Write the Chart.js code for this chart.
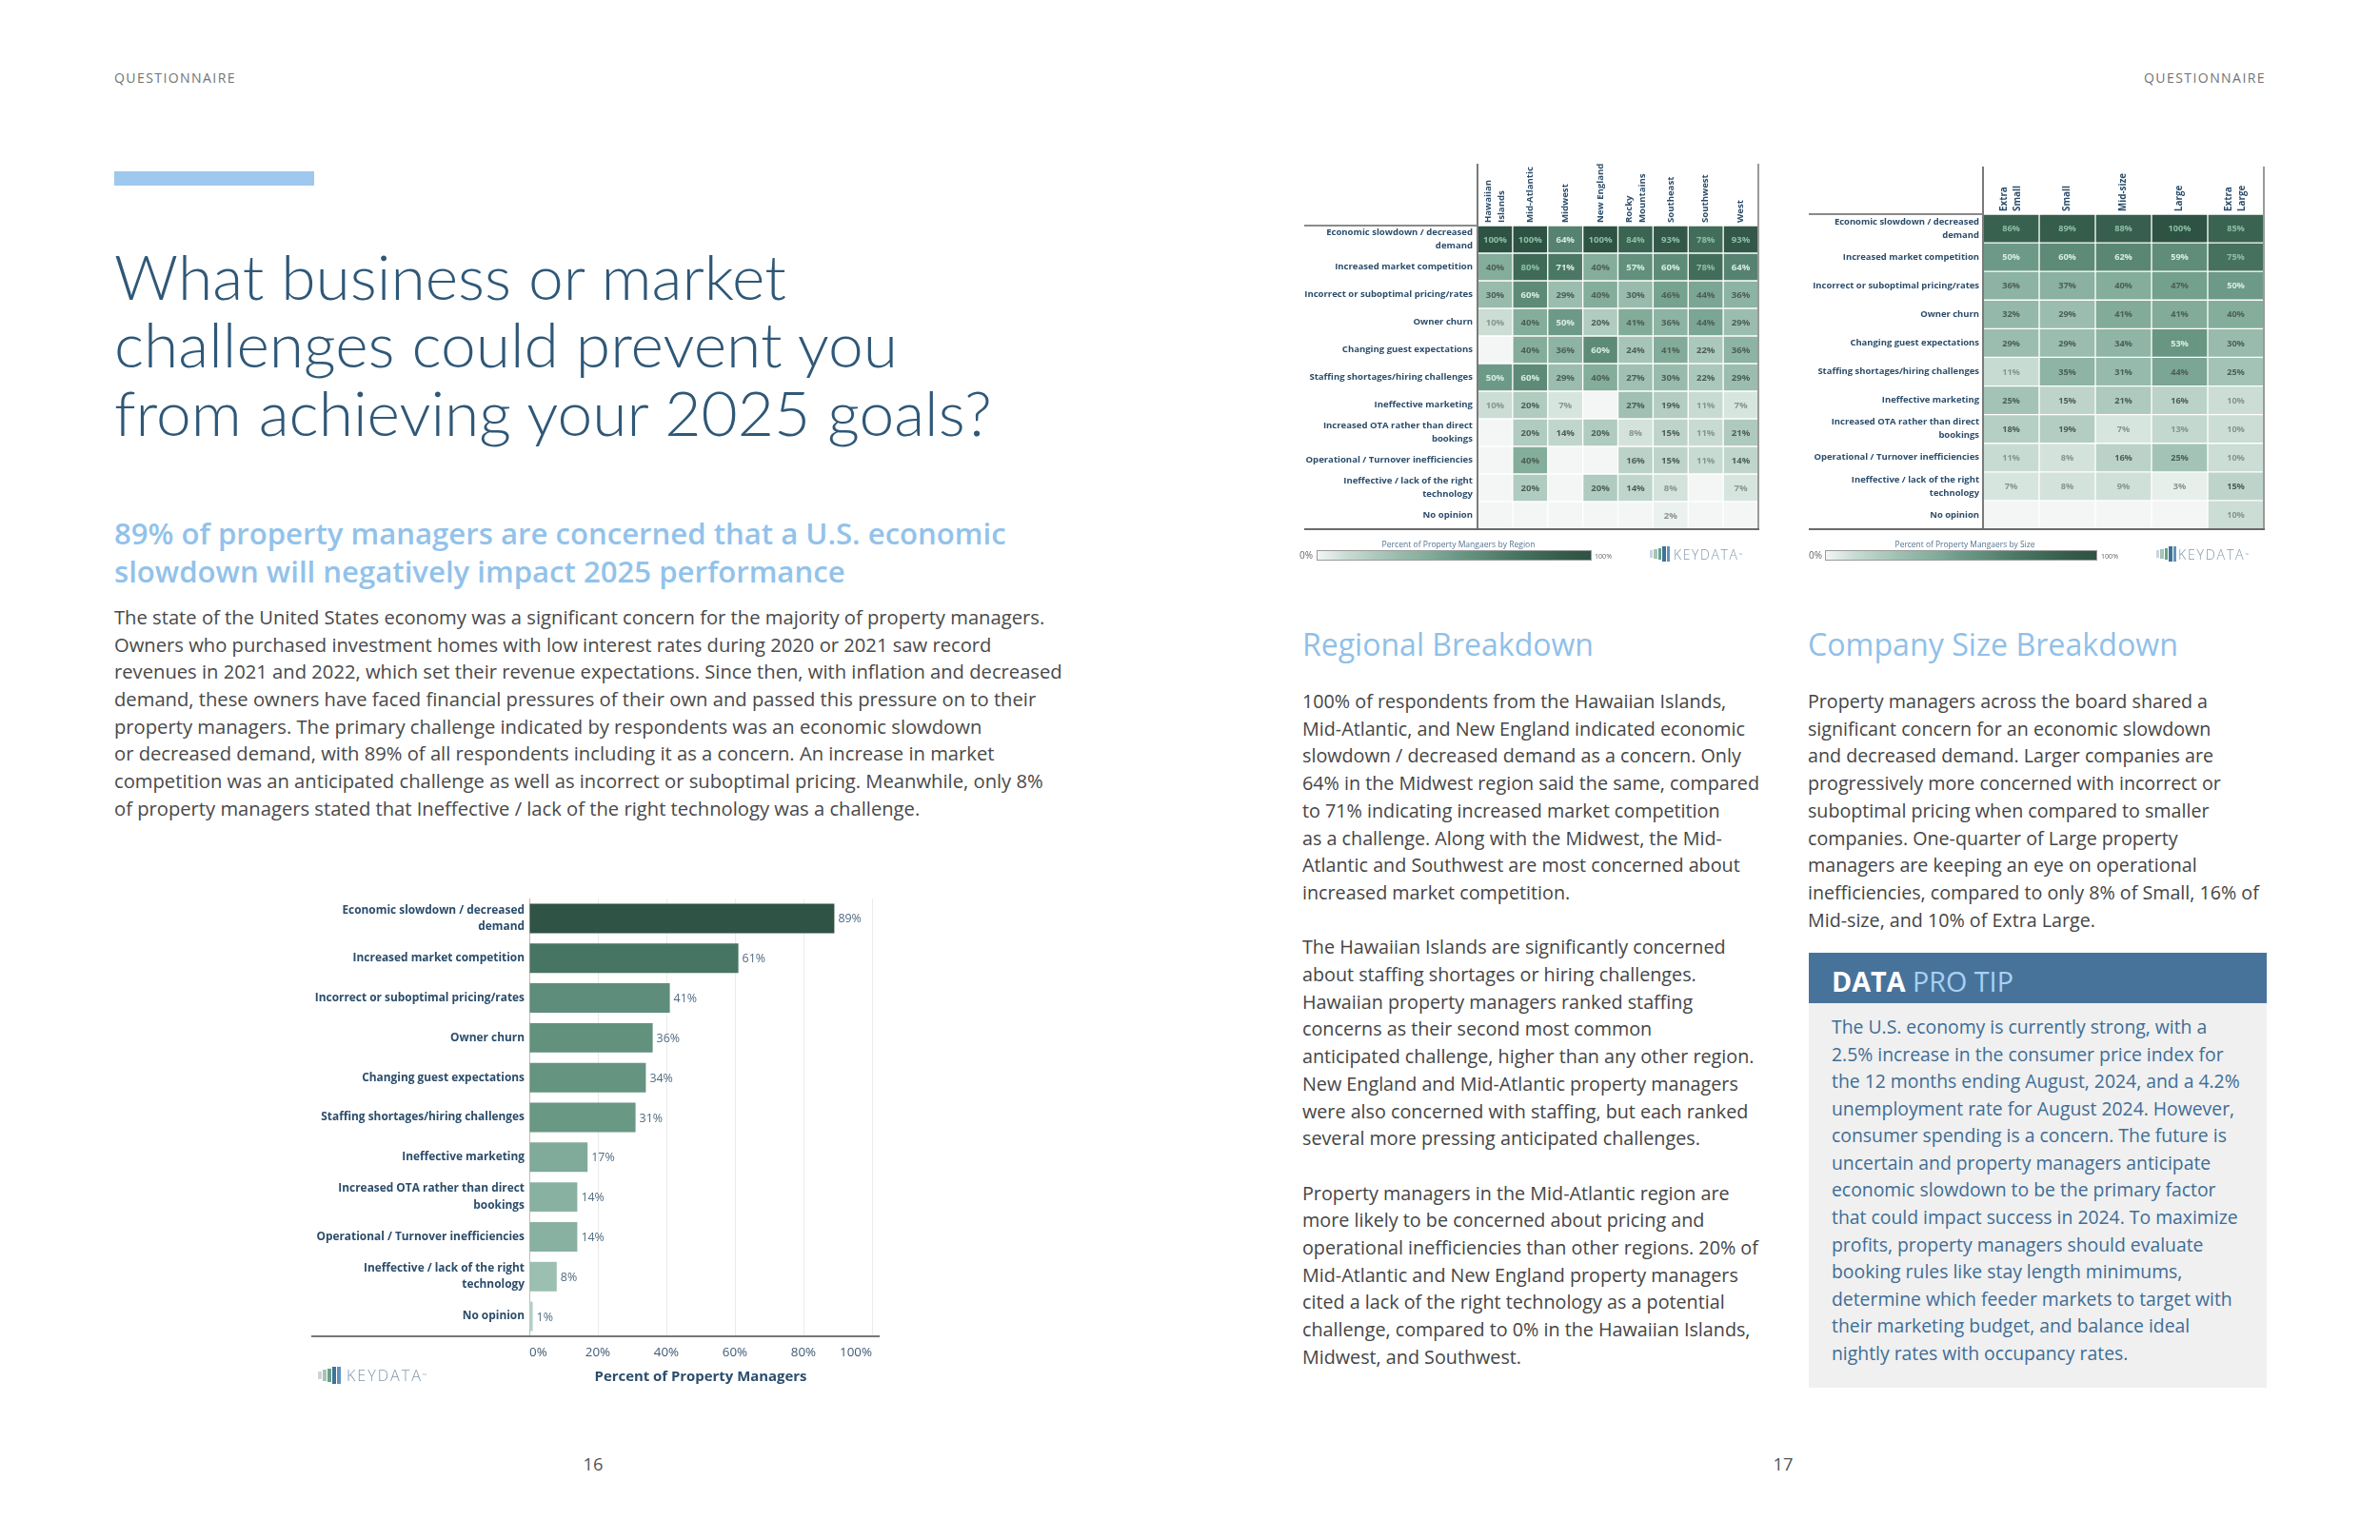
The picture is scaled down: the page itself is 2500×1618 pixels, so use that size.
<!DOCTYPE html>
<html lang="en">
<head>
<meta charset="utf-8">
<title>What business or market challenges could prevent you from achieving your 2025 goals?</title>
<script src="https://cdn.jsdelivr.net/npm/chart.js@4.4.1/dist/chart.umd.min.js"></script>
<style>
html,body{margin:0;padding:0;background:#fff}
#page{position:relative;width:2500px;height:1618px;overflow:hidden;background:#fff;font-family:'Open Sans','Noto Sans',sans-serif}
.t{position:absolute;display:inline-block;white-space:nowrap;margin:0}
.box{position:absolute}
canvas{position:absolute}
</style>
</head>
<body>
<div id="page">
  <!-- running heads -->
  <div class="t" data-w="128" data-b="87" style="left:120px;color:#737373;letter-spacing:0.1em;line-height:20px;font-size:14px">QUESTIONNAIRE</div>
  <div class="t" data-w="128" data-b="87" style="right:120px;color:#737373;letter-spacing:0.1em;line-height:20px;font-size:14px">QUESTIONNAIRE</div>

  <!-- left page -->
  <div class="box" style="left:120px;top:180px;width:210px;height:15px;background:#9ec8ee"></div>
  <div class="t" data-w="922" data-b="315" style="left:120px;font-family:Lato,'Open Sans',sans-serif;font-weight:300;color:#2f5878;line-height:71.5px;font-size:60px">What business or market<br>challenges could prevent you<br>from achieving your 2025 goals?</div>
  <div class="t" data-w="937" data-b="572" style="left:120px;font-weight:600;color:#92c2ea;line-height:40px;font-size:30px">89% of property managers are concerned that a U.S. economic<br>slowdown will negatively impact 2025 performance</div>
  <div class="t" data-w="996" data-b="656" style="left:120px;color:#494949;line-height:28.7px;font-size:19px">The state of the United States economy was a significant concern for the majority of property managers.<br>Owners who purchased investment homes with low interest rates during 2020 or 2021 saw record<br>revenues in 2021 and 2022, which set their revenue expectations. Since then, with inflation and decreased<br>demand, these owners have faced financial pressures of their own and passed this pressure on to their<br>property managers. The primary challenge indicated by respondents was an economic slowdown<br>or decreased demand, with 89% of all respondents including it as a concern. An increase in market<br>competition was an anticipated challenge as well as incorrect or suboptimal pricing. Meanwhile, only 8%<br>of property managers stated that Ineffective / lack of the right technology was a challenge.</div>

  <canvas id="bars" width="620" height="516" style="left:320px;top:940px;width:620px;height:516px"></canvas>

  <div class="t" data-w="21" data-b="1545" data-cx="623" style="line-height:30px;font-size:20px;color:#555">16</div>

  <!-- right page: heatmaps -->
  <canvas id="heatRegion" width="500" height="400" style="left:1370px;top:165px;width:500px;height:400px"></canvas>
  <canvas id="heatSize" width="500" height="400" style="left:1900px;top:165px;width:500px;height:400px"></canvas>

  <div class="t" data-w="161" data-b="575" data-cx="1532" style="line-height:16px;font-size:11px;color:#55748e">Percent of Property Mangaers by Region</div>
  <div class="box grad" style="left:1383px;top:578px;width:289px;height:11px;box-sizing:border-box;border:1px solid #9a9a9a"></div>
  <div class="t" data-b="587" style="right:1121px;line-height:14px;font-size:10px;color:#666">0%</div>
  <div class="t" data-w="18" data-b="587" style="left:1675px;line-height:14px;font-size:10px;color:#666">100%</div>

  <div class="t" data-w="147" data-b="575" data-cx="2064" style="line-height:16px;font-size:11px;color:#55748e">Percent of Property Mangaers by Size</div>
  <div class="box grad" style="left:1917px;top:578px;width:286px;height:11px;box-sizing:border-box;border:1px solid #9a9a9a"></div>
  <div class="t" data-b="587" style="right:586px;line-height:14px;font-size:10px;color:#666">0%</div>
  <div class="t" data-w="18" data-b="587" style="left:2207px;line-height:14px;font-size:10px;color:#666">100%</div>

  <!-- right page: text -->
  <div class="t" data-w="306" data-b="689" style="left:1368px;font-weight:500;color:#8fc0e9;line-height:40px;font-size:32px">Regional Breakdown</div>
  <div class="t" data-w="389" data-b="689" style="left:1899px;font-weight:500;color:#8fc0e9;line-height:40px;font-size:32px">Company Size Breakdown</div>

  <div class="t" data-w="480" data-b="745" style="left:1368px;color:#454545;line-height:28.7px;font-size:19px">100% of respondents from the Hawaiian Islands,<br>Mid-Atlantic, and New England indicated economic<br>slowdown / decreased demand as a concern. Only<br>64% in the Midwest region said the same, compared<br>to 71% indicating increased market competition<br>as a challenge. Along with the Midwest, the Mid-<br>Atlantic and Southwest are most concerned about<br>increased market competition.<br><br>The Hawaiian Islands are significantly concerned<br>about staffing shortages or hiring challenges.<br>Hawaiian property managers ranked staffing<br>concerns as their second most common<br>anticipated challenge, higher than any other region.<br>New England and Mid-Atlantic property managers<br>were also concerned with staffing, but each ranked<br>several more pressing anticipated challenges.<br><br>Property managers in the Mid-Atlantic region are<br>more likely to be concerned about pricing and<br>operational inefficiencies than other regions. 20% of<br>Mid-Atlantic and New England property managers<br>cited a lack of the right technology as a potential<br>challenge, compared to 0% in the Hawaiian Islands,<br>Midwest, and Southwest.</div>

  <div class="t" data-w="474" data-b="745" style="left:1899px;color:#454545;line-height:28.7px;font-size:19px">Property managers across the board shared a<br>significant concern for an economic slowdown<br>and decreased demand. Larger companies are<br>progressively more concerned with incorrect or<br>suboptimal pricing when compared to smaller<br>companies. One-quarter of Large property<br>managers are keeping an eye on operational<br>inefficiencies, compared to only 8% of Small, 16% of<br>Mid-size, and 10% of Extra Large.</div>

  <div class="box" style="left:1900px;top:1001px;width:481px;height:53px;background:#47739b"></div>
  <div class="box" style="left:1900px;top:1054px;width:481px;height:404px;background:#f0f0f0"></div>
  <div class="t" data-w="191" data-b="1042" style="left:1924px;line-height:40px;font-size:30px"><span style="color:#fff;font-weight:700">DATA</span> <span style="color:#a9d1f3;font-weight:400">PRO TIP</span></div>
  <div class="t" data-w="429" data-b="1087" style="left:1924px;color:#3e6d96;line-height:28.55px;font-size:19px">The U.S. economy is currently strong, with a<br>2.5% increase in the consumer price index for<br>the 12 months ending August, 2024, and a 4.2%<br>unemployment rate for August 2024. However,<br>consumer spending is a concern. The future is<br>uncertain and property managers anticipate<br>economic slowdown to be the primary factor<br>that could impact success in 2024. To maximize<br>profits, property managers should evaluate<br>booking rules like stay length minimums,<br>determine which feeder markets to target with<br>their marketing budget, and balance ideal<br>nightly rates with occupancy rates.</div>

  <div class="t" data-w="21" data-b="1545" data-cx="1873" style="line-height:30px;font-size:20px;color:#555">17</div>
</div>

<script>
// ---------------- DATA ----------------
const challenges = [
  ['Economic slowdown / decreased', 'demand'],
  'Increased market competition',
  'Incorrect or suboptimal pricing/rates',
  'Owner churn',
  'Changing guest expectations',
  'Staffing shortages/hiring challenges',
  'Ineffective marketing',
  ['Increased OTA rather than direct', 'bookings'],
  'Operational / Turnover inefficiencies',
  ['Ineffective / lack of the right', 'technology'],
  'No opinion'
];
// overall share of property managers (%)
const overallPct = [89, 61, 41, 36, 34, 31, 17, 14, 14, 8, 1];
const xTickValues = [0, 20, 40, 60, 80, 100];

// by region (%; null = no response)
const regionLabels = [['Hawaiian', 'Islands'], 'Mid-Atlantic', 'Midwest', 'New England', ['Rocky', 'Mountains'], 'Southeast', 'Southwest', 'West'];
const hawaiianIslands = [100, 40, 30, 10, null, 50, 10, null, null, null, null];
const midAtlantic     = [100, 80, 60, 40, 40, 60, 20, 20, 40, 20, null];
const midwest         = [64, 71, 29, 50, 36, 29, 7, 14, null, null, null];
const newEngland      = [100, 40, 40, 20, 60, 40, null, 20, null, 20, null];
const rockyMountains  = [84, 57, 30, 41, 24, 27, 27, 8, 16, 14, null];
const southeast       = [93, 60, 46, 36, 41, 30, 19, 15, 15, 8, 2];
const southwest       = [78, 78, 44, 44, 22, 22, 11, 11, 11, null, null];
const west            = [93, 64, 36, 29, 36, 29, 7, 21, 14, 7, null];

// by company size (%)
const sizeLabels = [['Extra', 'Small'], 'Small', 'Mid-size', 'Large', ['Extra', 'Large']];
const extraSmall = [86, 50, 36, 32, 29, 11, 25, 18, 11, 7, null];
const small      = [89, 60, 37, 29, 29, 35, 15, 19, 8, 8, null];
const midSize    = [88, 62, 40, 41, 34, 31, 21, 7, 16, 9, null];
const large      = [100, 59, 47, 41, 53, 44, 16, 13, 25, 3, null];
const extraLarge = [85, 75, 50, 40, 30, 25, 10, 10, 10, 15, 10];

// ---------------- STYLE ----------------
const FAM = "'Open Sans', 'Noto Sans', sans-serif";
const HEAT = [[0,'#f3f6f5'],[10,'#cbddd5'],[20,'#b0cbc0'],[30,'#98bbad'],[40,'#84ad9c'],[50,'#6d9a88'],[60,'#5d8b78'],[70,'#4c7866'],[80,'#3f6a58'],[90,'#355b4b'],[100,'#2e5243']];
const BAR = [[0,'#b8d2c7'],[8,'#9bbfb1'],[14,'#89b1a2'],[17,'#80aa99'],[31,'#699884'],[36,'#62917e'],[41,'#5e8d7b'],[61,'#477563'],[89,'#2f5345']];

function hex2rgb(h){ return [1,3,5].map(i => parseInt(h.slice(i, i+2), 16)); }
function ramp(stops, v){
  if (v <= stops[0][0]) return stops[0][1];
  for (let i = 1; i < stops.length; i++){
    if (v <= stops[i][0]){
      const [v0, c0] = stops[i-1], [v1, c1] = stops[i];
      const t = (v - v0) / (v1 - v0), a = hex2rgb(c0), b = hex2rgb(c1);
      return 'rgb(' + a.map((x, k) => Math.round(x + (b[k] - x) * t)).join(',') + ')';
    }
  }
  return stops[stops.length-1][1];
}
function cellInk(v){ if (v >= 75) return '#8cc0a6'; if (v >= 48) return '#d6ece2'; if (v >= 14) return '#4c5f57'; return '#86958f'; }

const mctx = document.createElement('canvas').getContext('2d');
function fitSize(text, weight, target, family){ mctx.font = weight + ' 100px ' + (family || FAM); return 100 * target / mctx.measureText(text).width; }

// ---------------- LOGOS & LEGENDS ----------------
const page = document.getElementById('page');
function logo(x, cy, iconW, iconH, textX, textW){
  const cols = ['#c9d5de','#a6c3b8','#69a088','#3e7398','#6492bc'];
  const hs = [0.45, 0.62, 0.8, 1, 1];
  const bw = iconW / 6.2, gap = (iconW - 5 * bw) / 4;
  hs.forEach((h, i) => {
    const d = document.createElement('div'); d.className = 'box';
    Object.assign(d.style, {left: (x + i * (bw + gap)) + 'px', top: (cy - iconH * h / 2) + 'px', width: bw + 'px', height: (iconH * h) + 'px', background: cols[i]});
    page.appendChild(d);
  });
  const t = document.createElement('div'); t.className = 't';
  t.innerHTML = 'KEYDATA<span style="font-size:35%;vertical-align:top;letter-spacing:0">™</span>';
  Object.assign(t.style, {left: textX + 'px', fontWeight: '300', color: '#7f97ab', letterSpacing: '0.12em', lineHeight: '20px', fontSize: '14px'});
  t.dataset.w = textW; t.dataset.b = cy + 6;
  page.appendChild(t);
}
logo(334, 1445, 24, 18, 364, 84);
logo(1733, 582, 21, 16, 1758, 72);
logo(2265, 582, 21, 16, 2288, 74);

const gradCss = 'linear-gradient(to right,' + HEAT.map(([v, c]) => c + ' ' + v + '%').join(',') + ')';
document.querySelectorAll('.grad').forEach(g => g.style.background = gradCss);

// ---------------- FIT HTML TEXT ----------------
document.querySelectorAll('.t').forEach(el => {
  let fs = parseFloat(getComputedStyle(el).fontSize);
  if (el.dataset.w){ const w = el.getBoundingClientRect().width; fs = fs * (+el.dataset.w) / w; el.style.fontSize = fs.toFixed(2) + 'px'; }
  const lh = parseFloat(getComputedStyle(el).lineHeight);
  if (el.dataset.b) el.style.top = (+el.dataset.b - lh / 2 - 0.388 * fs).toFixed(1) + 'px';
  if (el.dataset.cx) el.style.left = (+el.dataset.cx - el.getBoundingClientRect().width / 2).toFixed(1) + 'px';
});

// ---------------- BAR CHART ----------------
const barLabFs = fitSize('Incorrect or suboptimal pricing/rates', 700, 220.5);
const barValFs = fitSize('89%', 400, 24.5);
const tickFs = fitSize('100%', 400, 34);
const axTitleFs = fitSize('Percent of Property Managers', 700, 223);

const barValuePlugin = {
  id: 'barValues',
  afterDatasetsDraw(chart){
    const ctx = chart.ctx, meta = chart.getDatasetMeta(0);
    ctx.save();
    ctx.font = '400 ' + barValFs + 'px ' + FAM;
    ctx.fillStyle = '#4f6b83'; ctx.textAlign = 'left'; ctx.textBaseline = 'middle';
    meta.data.forEach((el, i) => ctx.fillText(overallPct[i] + '%', el.x + 4, el.y + 1));
    ctx.restore();
  },
  afterDraw(chart){
    const ctx = chart.ctx, ca = chart.chartArea;
    ctx.save(); ctx.strokeStyle = '#777'; ctx.lineWidth = 2;
    ctx.beginPath(); ctx.moveTo(7, ca.bottom); ctx.lineTo(ca.right + 8, ca.bottom); ctx.stroke();
    ctx.restore();
  }
};

new Chart(document.getElementById('bars'), {
  type: 'bar',
  data: { labels: challenges, datasets: [{ data: overallPct, backgroundColor: overallPct.map(v => ramp(BAR, v)), borderWidth: 0, barPercentage: 0.74, categoryPercentage: 1 }] },
  options: {
    indexAxis: 'y', responsive: false, animation: false, devicePixelRatio: 1,
    layout: { padding: { top: 4, right: 24, bottom: 0, left: 0 } },
    plugins: { legend: { display: false }, tooltip: { enabled: false } },
    scales: {
      x: {
        type: 'linear', min: 0, max: 100,
        afterBuildTicks(s){ s.ticks = xTickValues.map(v => ({ value: v })); },
        ticks: { align: 'inner', padding: 9, color: '#3f5a73', font: { family: FAM, size: tickFs }, callback: v => v + '%' },
        grid: { color: '#ebebeb', lineWidth: 1, drawTicks: false },
        border: { display: false },
        title: { display: true, text: 'Percent of Property Managers', color: '#2b4d6b', font: { family: FAM, weight: 'bold', size: axTitleFs }, padding: { top: 0, bottom: 0 } },
        afterFit(s){ s.height = 52; s.paddingLeft = 0; s.paddingRight = 0; }
      },
      y: {
        ticks: { autoSkip: false, padding: 5, color: '#2b4d6b', font: { family: FAM, weight: 'bold', size: barLabFs, lineHeight: '17.5px' } },
        grid: { display: false, drawTicks: false },
        border: { display: true, color: '#bdbdbd', width: 1 },
        afterFit(s){ s.width = 236; s.paddingTop = 0; s.paddingBottom = 0; }
      }
    }
  },
  plugins: [barValuePlugin]
});

// ---------------- HEATMAPS ----------------
function heatmap(canvasId, colLabels, columns, cfg){
  const datasets = columns.map((vals, c) => ({
    data: vals.map(() => [c, c + 1]),
    values: vals,
    backgroundColor: vals.map(v => ramp(HEAT, v == null ? 0 : v)),
    borderColor: 'rgba(255,255,255,0.16)', borderWidth: 1, borderSkipped: false,
    barPercentage: 1, categoryPercentage: 1, grouped: false
  }));
  const decor = {
    id: 'heatDecor',
    afterDatasetsDraw(chart){
      const ctx = chart.ctx;
      ctx.save();
      ctx.font = '700 ' + cfg.cellFs + 'px ' + FAM; ctx.textAlign = 'center'; ctx.textBaseline = 'middle';
      chart.data.datasets.forEach((ds, d) => {
        chart.getDatasetMeta(d).data.forEach((el, i) => {
          const v = ds.values[i]; if (v == null) return;
          ctx.fillStyle = cellInk(v);
          ctx.fillText(v + '%', (el.x + el.base) / 2, el.y + 0.5);
        });
      });
      ctx.restore();
    },
    afterDraw(chart){
      const ctx = chart.ctx, ca = chart.chartArea, xs = chart.scales.x;
      ctx.save();
      // column headers, rotated, read bottom-to-top
      ctx.font = '700 ' + cfg.headFs + 'px ' + FAM; ctx.fillStyle = '#2b4d6b';
      ctx.textAlign = 'left'; ctx.textBaseline = 'middle';
      colLabels.forEach((lab, c) => {
        const lines = Array.isArray(lab) ? lab : [lab];
        ctx.save();
        ctx.translate(xs.getPixelForValue(c + 0.5), ca.top - cfg.headGap);
        ctx.rotate(-Math.PI / 2);
        lines.forEach((ln, j) => ctx.fillText(ln, 0, (j - (lines.length - 1) / 2) * 14));
        ctx.restore();
      });
      // table frame
      const seg = (x1, y1, x2, y2, col, w) => { ctx.strokeStyle = col; ctx.lineWidth = w; ctx.beginPath(); ctx.moveTo(x1, y1); ctx.lineTo(x2, y2); ctx.stroke(); };
      seg(ca.left, cfg.frameTop, ca.left, ca.bottom, '#7a7a7a', 2);
      seg(ca.right, cfg.frameTop, ca.right, ca.bottom, '#9a9a9a', 2);
      seg(0, ca.top, ca.left, ca.top, '#8a8a8a', 2);
      seg(0, ca.bottom, ca.right + 1, ca.bottom, '#6a6a6a', 2);
      ctx.restore();
    }
  };
  return new Chart(document.getElementById(canvasId), {
    type: 'bar',
    data: { labels: challenges, datasets },
    options: {
      indexAxis: 'y', responsive: false, animation: false, devicePixelRatio: 1,
      layout: { padding: { top: cfg.headH, right: cfg.padR, bottom: cfg.padB, left: 0 } },
      plugins: { legend: { display: false }, tooltip: { enabled: false } },
      scales: {
        x: { type: 'linear', min: 0, max: colLabels.length, display: false },
        y: {
          ticks: { autoSkip: false, padding: cfg.labPad, color: '#2b4d6b', font: { family: FAM, weight: 'bold', size: cfg.rowFs, lineHeight: '14px' } },
          grid: { display: false, drawTicks: false }, border: { display: false },
          afterFit(s){ s.width = cfg.yW; s.paddingTop = 0; s.paddingBottom = 0; }
        }
      }
    },
    plugins: [decor]
  });
}

heatmap('heatRegion', regionLabels,
  [hawaiianIslands, midAtlantic, midwest, newEngland, rockyMountains, southeast, southwest, west],
  { headH: 72, padR: 23, padB: 9, yW: 182, labPad: 5, frameTop: 7, headGap: 3,
    rowFs: fitSize('Incorrect or suboptimal pricing/rates', 700, 177),
    cellFs: fitSize('100%', 700, 25), headFs: fitSize('Mid-Atlantic', 700, 59) });

heatmap('heatSize', sizeLabels,
  [extraSmall, small, midSize, large, extraLarge],
  { headH: 60, padR: 22, padB: 9, yW: 183, labPad: 4, frameTop: 10, headGap: 3,
    rowFs: fitSize('Incorrect or suboptimal pricing/rates', 700, 175),
    cellFs: fitSize('100%', 700, 24), headFs: fitSize('Mid-size', 700, 40) });
</script>
</body>
</html>
